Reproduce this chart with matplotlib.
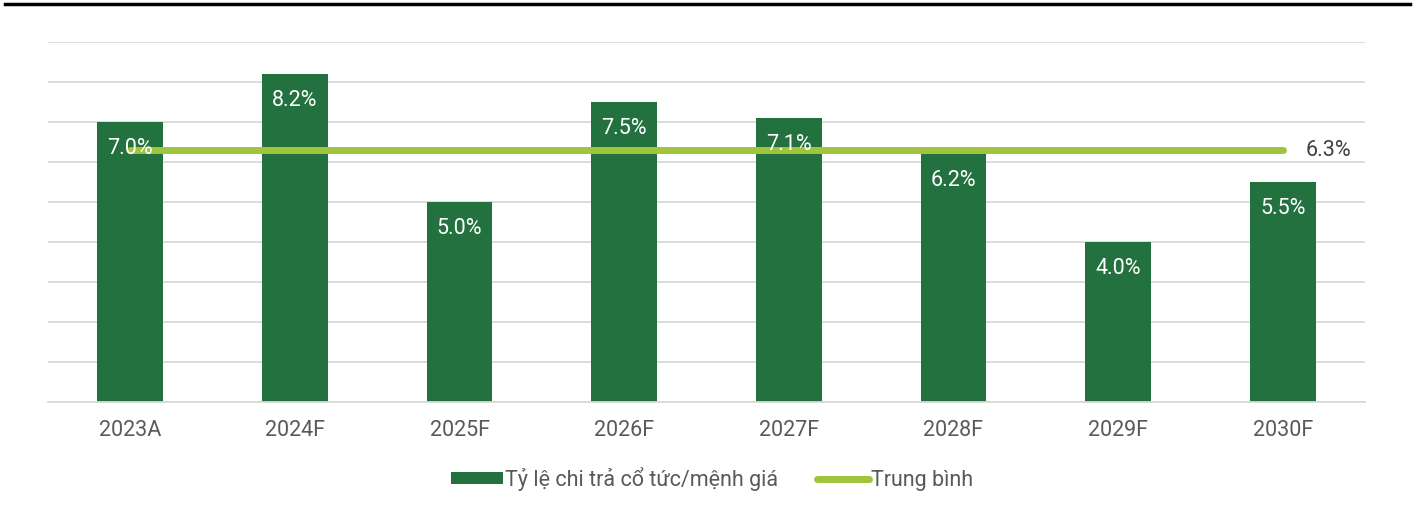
import matplotlib
matplotlib.use("Agg")
import matplotlib.pyplot as plt
import numpy as np

plt.rcParams['font.family'] = ['Roboto', 'DejaVu Sans']

# data
years = ["2023A", "2024F", "2025F", "2026F", "2027F", "2028F", "2029F", "2030F"]
payout = [7.0, 8.2, 5.0, 7.5, 7.1, 6.2, 4.0, 5.5]
average = 6.3

bar_color = "#23713F"
line_color = "#A0C43C"
grid_color = "#D9D9D9"

fig = plt.figure(figsize=(14.24, 5.17), dpi=100)
ax = fig.add_axes([48 / 1424, 1 - 402 / 517, (1365 - 48) / 1424, 360 / 517])

x = np.arange(len(years))
bars = ax.bar(x, payout, width=0.4, color=bar_color, zorder=2,
              label="Tỷ lệ chi trả cổ tức/mệnh giá")
avg_line, = ax.plot(x, [average] * len(x), color=line_color, lw=5,
                    solid_capstyle="round", zorder=3, label="Trung bình")

# labels inside bars
for xi, v in zip(x, payout):
    ax.text(xi, v - 0.65, f"{v:.1f}%", ha="center", va="center",
            color="white", fontsize=15.5, zorder=4)
ax.text(x[-1] + 0.14, average, f"{average:.1f}%", ha="left", va="center",
        color="#404040", fontsize=15.5, zorder=4)

ax.set_xlim(-0.5, len(years) - 0.5)
ax.set_ylim(0, 9)
ax.set_yticks(np.arange(0, 10, 1))
ax.yaxis.grid(True, color=grid_color, lw=1.3, zorder=0)
ax.tick_params(axis="y", left=False, labelleft=False)
ax.tick_params(axis="x", length=0, pad=13, labelsize=15.5, labelcolor="#595959")
ax.set_xticks(x)
ax.set_xticklabels(years)
for s in ["top", "right", "left"]:
    ax.spines[s].set_visible(False)
ax.spines["bottom"].set_color(grid_color)
ax.spines["bottom"].set_linewidth(1.3)

# top black rule
fig.add_artist(plt.Line2D([5 / 1424, 1410 / 1424], [1 - 3.5 / 517, 1 - 3.5 / 517],
                          color="black", lw=2.5))

leg = fig.legend(handles=[bars, avg_line], loc="center",
                 bbox_to_anchor=(0.5, 1 - 479 / 517), ncol=2,
                 frameon=False, fontsize=15.5, handlelength=2.4, handleheight=0.5,
                 handletextpad=0.1, columnspacing=1.8)
for t in leg.get_texts():
    t.set_color("#595959")

fig.savefig("out.png", dpi=100)
